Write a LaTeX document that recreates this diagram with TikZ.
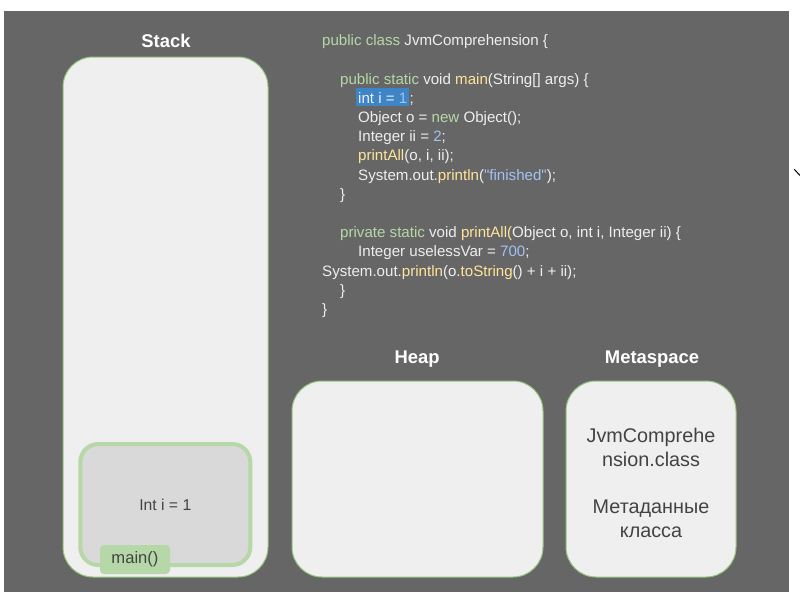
\documentclass[tikz,border=0pt]{standalone}
\usepackage{fontspec}
\setmainfont{Liberation Sans}
\definecolor{bggray}{HTML}{666666}
\definecolor{boxfill}{HTML}{EFEFEF}
\definecolor{boxline}{HTML}{93C47D}
\definecolor{framefill}{HTML}{D9D9D9}
\definecolor{frameline}{HTML}{B6D7A8}
\definecolor{darktext}{HTML}{434343}
\definecolor{codewhite}{HTML}{EEEEEE}
\definecolor{kwgreen}{HTML}{B6D7A8}
\definecolor{fnyellow}{HTML}{FFE599}
\definecolor{litblue}{HTML}{A4C2F4}
\definecolor{selblue}{HTML}{3D85C6}
\newcommand{\jkw}[1]{{\color{kwgreen}#1}}
\newcommand{\jfn}[1]{{\color{fnyellow}#1}}
\newcommand{\jlit}[1]{{\color{litblue}#1}}
\tikzset{
  membox/.style={draw=boxline, line width=1pt, fill=boxfill, rounded corners=30pt},
  areatitle/.style={text=white, font=\fontsize{18.4}{22}\selectfont\bfseries},
  codeline/.style={anchor=base west, inner sep=0pt, text=codewhite, font=\fontsize{15.1}{19.2}\selectfont},
}

\begin{document}
\begin{tikzpicture}[x=1pt, y=-1pt]
  \useasboundingbox (0,0) rectangle (800,600);
  \fill[bggray] (4,11) rectangle (789,592);
  \draw[black, line width=1pt] (794.3,169.3) -- (800,175.5);

  % memory areas
  \node[areatitle] (stacktitle) at (166,41) {Stack};
  \node[membox, minimum width=205pt, minimum height=520pt] (stack) at (165.5,317) {};
  \node[draw=frameline, line width=4pt, fill=framefill, rounded corners=18pt,
        minimum width=170pt, minimum height=121pt, text=darktext,
        font=\fontsize{15.7}{19}\selectfont] (frame) at (165.3,504.5) {Int i = 1};
  \node[fill=frameline, rounded corners=4pt, minimum width=70pt, minimum height=29pt,
        text=darktext, font=\fontsize{16.6}{19}\selectfont] (maintab) at (135,559.5) {main()};

  \node[areatitle] (heaptitle) at (417,359) {Heap};
  \node[membox, minimum width=251pt, minimum height=196pt] (heap) at (417.5,479) {};

  \node[areatitle] (metatitle) at (652,359) {Metaspace};
  \node[membox, minimum width=170pt, minimum height=196pt] (meta) at (651,479) {};
  \node[align=center, text=darktext, font=\fontsize{19.8}{23.8}\selectfont] (metatext)
    at (651,483) {JvmComprehe\\nsion.class\\[23.8pt]Метаданные\\класса};

  % source code
  \node[codeline] (c0) at (322,45.6) {\jkw{public class} JvmComprehension \{};
  \node[codeline] (c2) at (340,84) {\jkw{public static} void \jfn{main}(String[] args) \{};
  \node[codeline, fill=selblue, inner xsep=2pt, text height=15pt, text depth=3pt] (c3)
    at (356,103.2) {int i = \jlit{1}};
  \node[codeline] (c3b) at (c3.base east) {;};
  \node[codeline] (c4) at (358,122.4) {Object o = \jkw{new} Object();};
  \node[codeline] (c5) at (358,141.6) {Integer ii = \jlit{2};};
  \node[codeline] (c6) at (358,160.8) {\jfn{printAll}(o, i, ii);};
  \node[codeline] (c7) at (358,180) {System.out.\jfn{println}(\jlit{\textquotedbl finished\textquotedbl});};
  \node[codeline] (c8) at (340,199.2) {\}};
  \node[codeline] (c10) at (340,237.6) {\jkw{private static} void \jfn{printAll(}Object o, int i, Integer ii) \{};
  \node[codeline] (c11) at (358,256.8) {Integer uselessVar = \jlit{700};};
  \node[codeline] (c12) at (322,276) {System.out.\jfn{println}(o.\jfn{toString}() + i + ii);};
  \node[codeline] (c13) at (340,295.2) {\}};
  \node[codeline] (c14) at (322,314.4) {\}};
\end{tikzpicture}
\end{document}
